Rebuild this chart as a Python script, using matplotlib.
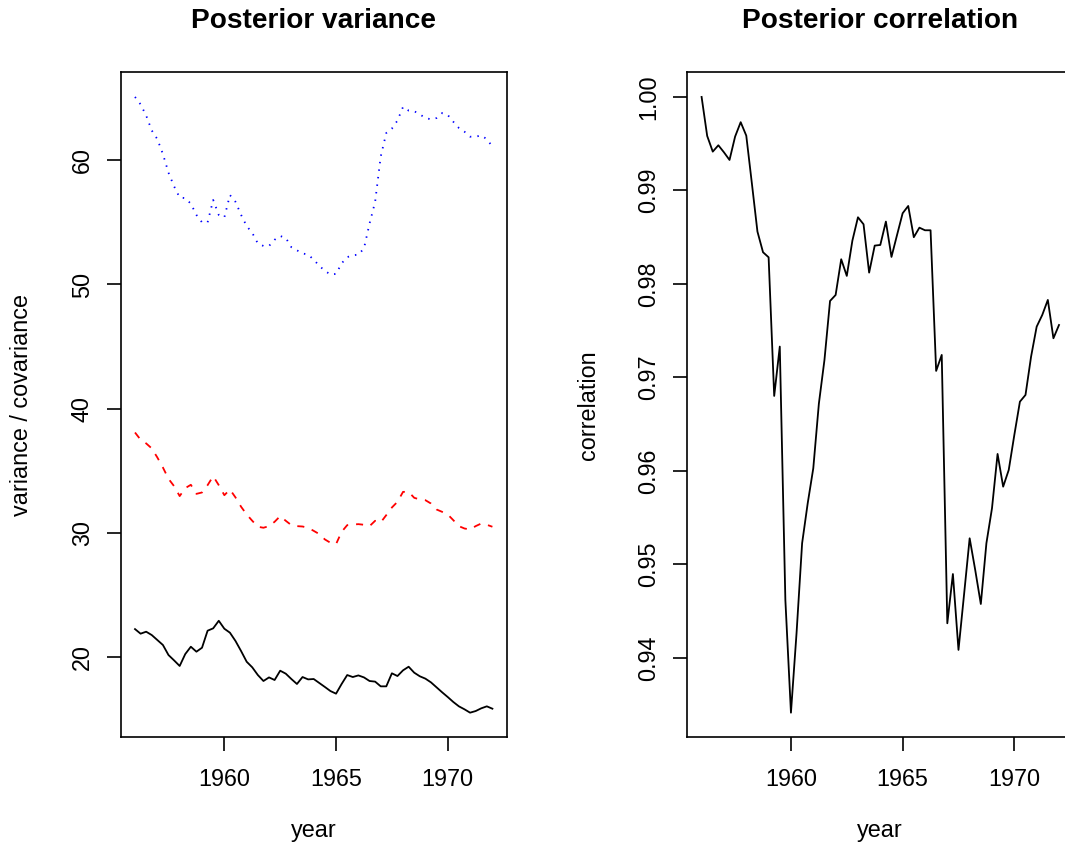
import numpy as np
import matplotlib
matplotlib.use("Agg")
import matplotlib.pyplot as plt

plt.rcParams['font.family'] = ['Liberation Sans', 'DejaVu Sans']

# ---- data (quarterly, 1956 Q1 .. 1972 Q1) ----
start_year = 1956
n_quarters = 65
years = start_year + np.arange(n_quarters) / 4.0

var_blue = [65.1, 64.5, 63.6, 62.4, 61.7, 60.5, 59.0, 57.9, 57.0, 56.95,
            56.5, 55.6, 55.0, 55.0, 56.8, 55.6, 55.4, 57.2, 56.65, 55.6,
            54.7, 54.15, 53.3, 53.1, 53.1, 53.6, 53.9, 53.75, 53.0, 52.75,
            52.5, 52.4, 52.0, 51.5, 51.1, 50.8, 50.85, 51.7, 52.2, 52.35,
            52.4, 52.9, 54.9, 56.65, 60.3, 62.2, 62.55, 63.2, 64.3, 64.0,
            63.95, 63.7, 63.4, 63.3, 63.4, 63.8, 63.65, 63.1, 62.6, 62.3,
            61.9, 61.9, 62.0, 61.7, 61.1]

cov_red = [38.08, 37.5, 37.2, 36.8, 36.07, 35.26, 34.35, 33.76, 32.96, 33.6,
           33.87, 33.14, 33.25, 33.84, 34.56, 33.84, 33.03, 33.49, 32.85, 32.1,
           31.48, 30.97, 30.49, 30.41, 30.54, 30.89, 31.35, 30.97, 30.62, 30.54,
           30.51, 30.41, 30.16, 29.9, 29.47, 29.2, 29.09, 30.08, 30.62, 30.67,
           30.7, 30.65, 30.54, 30.97, 30.84, 31.43, 32.04, 32.5, 33.3, 33.3,
           32.82, 32.69, 32.63, 32.36, 31.88, 31.69, 31.48, 31.02, 30.54, 30.35,
           30.27, 30.54, 30.75, 30.65, 30.49]

var_black = [22.25, 21.88, 22.04, 21.77, 21.37, 20.97, 20.16, 19.73, 19.28, 20.24,
             20.83, 20.43, 20.75, 22.12, 22.31, 22.92, 22.28, 21.96, 21.29, 20.48,
             19.62, 19.17, 18.55, 18.07, 18.36, 18.15, 18.9, 18.66, 18.23, 17.83,
             18.39, 18.2, 18.23, 17.91, 17.59, 17.26, 17.05, 17.83, 18.55, 18.39,
             18.52, 18.36, 18.07, 18.02, 17.64, 17.64, 18.69, 18.47, 18.93, 19.22,
             18.74, 18.45, 18.26, 17.96, 17.56, 17.16, 16.78, 16.38, 16.03, 15.79,
             15.52, 15.65, 15.87, 16.03, 15.84]

correlation = [1.0000, 0.99583, 0.99415, 0.99483, 0.99408, 0.99326, 0.99576, 0.9973, 0.99586, 0.99077,
               0.9856, 0.98339, 0.98285, 0.96802, 0.9733, 0.9462, 0.93415, 0.94264, 0.95227, 0.95654,
               0.96029, 0.9672, 0.97187, 0.97818, 0.97882, 0.98264, 0.98086, 0.98463, 0.98713, 0.98638,
               0.98121, 0.9841, 0.98417, 0.98667, 0.98289, 0.98524, 0.98756, 0.98834, 0.985, 0.98602,
               0.98574, 0.98574, 0.9707, 0.97241, 0.94371, 0.94898, 0.94086, 0.9468, 0.9528, 0.9494,
               0.94577, 0.95227, 0.95601, 0.96182, 0.95832, 0.96011, 0.96385, 0.96741, 0.96813, 0.97223,
               0.97543, 0.97668, 0.97829, 0.97419, 0.97561]

x_ticks = [1960, 1965, 1970]
left_yticks = [20, 30, 40, 50, 60]
right_yticks = [0.94, 0.95, 0.96, 0.97, 0.98, 0.99, 1.00]

# ---- figure ----
W, H = 1065, 844
fig = plt.figure(figsize=(W / 100, H / 100), dpi=100)

box_w = 386 / W
box_h = 665 / H
box_y0 = (H - 737.3) / H
ax1 = fig.add_axes([120.7 / W, box_y0, box_w, box_h])
ax2 = fig.add_axes([687.3 / W, box_y0, box_w, box_h])

FS = 16.8
LW = 1.3

ax1.plot(years, var_blue, color='blue', lw=LW, linestyle=(0, (0.8, 3.4)))
ax1.plot(years, cov_red, color='red', lw=LW, linestyle=(0, (3.9, 4.4)))
ax1.plot(years, var_black, color='black', lw=LW)
ax2.plot(years, correlation, color='black', lw=LW)

for ax, yt, fmt in ((ax1, left_yticks, "{:d}"), (ax2, right_yticks, "{:.2f}")):
    ax.margins(x=0.04, y=0.04)
    ax.set_xticks(x_ticks)
    ax.set_xticklabels([str(v) for v in x_ticks])
    ax.set_yticks(yt)
    ax.set_yticklabels([fmt.format(v) for v in yt])
    for s in ax.spines.values():
        s.set_linewidth(1.2)
        s.set_color('black')
    ax.tick_params(direction='out', length=9.9, width=1.2, colors='black',
                   labelsize=FS)
    ax.tick_params(axis='x', pad=25)
    ax.tick_params(axis='y', pad=13)
    for lab in ax.get_xticklabels():
        lab.set_va('baseline')
    for lab in ax.get_yticklabels():
        lab.set_rotation(90)
        lab.set_rotation_mode('anchor')
        lab.set_ha('center')
        lab.set_va('baseline')

# axis labels
for ax, ylab in ((ax1, "variance / covariance"), (ax2, "correlation")):
    ax.set_xlabel("year", fontsize=FS)
    ax.xaxis.set_label_coords(0.5, (737.3 - 837) / 665)
    ax.xaxis.label.set_va('baseline')
    ax.set_ylabel(ylab, fontsize=FS)
    ax.yaxis.set_label_coords(-92.3 / 386, 0.5)
    ax.yaxis.label.set_va('baseline')

# titles
fig.text((120.7 + 193) / W, 1 - 28 / H, "Posterior variance",
         ha='center', va='baseline', fontsize=20.2, fontweight='bold')
fig.text((687.3 + 193) / W, 1 - 28 / H, "Posterior correlation",
         ha='center', va='baseline', fontsize=20.2, fontweight='bold')

fig.savefig("out.png", dpi=100)
